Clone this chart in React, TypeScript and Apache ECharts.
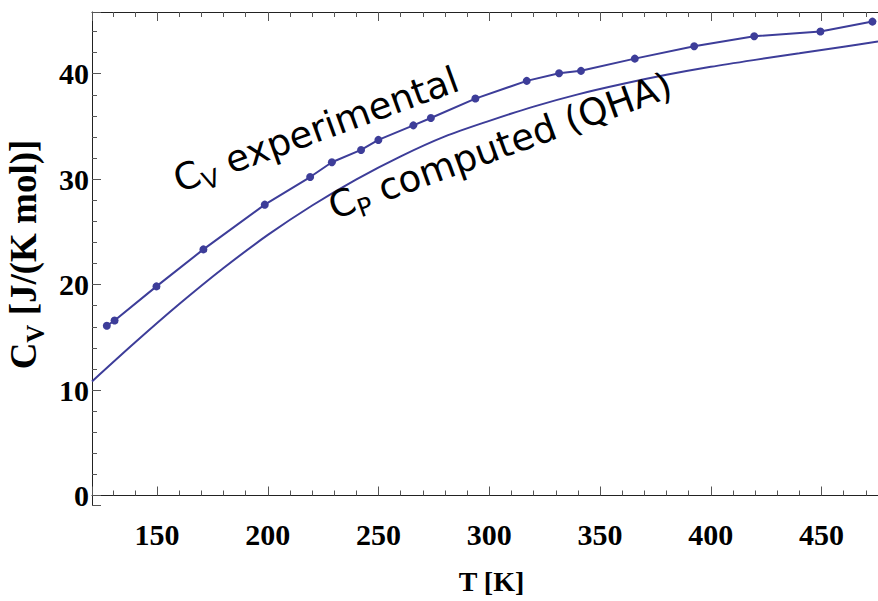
import React, { useEffect, useRef } from "react";
import * as echarts from "echarts";

// Experimental C_V points (T in K, C_V in J/(K mol))
const expT = [127.3, 130.8, 149.7, 170.9, 198.6, 219.1, 228.9, 242.1, 249.9, 265.7, 273.6, 293.7, 316.9, 331.5, 341.4, 365.7, 392.5, 419.6, 449.5, 473.0];
const expCv = [16.1, 16.6, 19.83, 23.34, 27.58, 30.2, 31.6, 32.77, 33.72, 35.1, 35.8, 37.64, 39.32, 40.04, 40.27, 41.43, 42.6, 43.55, 44.0, 44.94];

// Computed C_P (QHA) curve at regular temperatures
const qhaT = [120.6, 140, 160, 180, 200, 220, 240, 260, 280, 300, 320, 340, 360, 380, 400, 420, 440, 460, 475.5];
const qhaCp = [10.81, 14.5, 18.15, 21.57, 24.71, 27.5, 29.98, 32.16, 34.05, 35.53, 36.88, 38.04, 39.02, 39.89, 40.65, 41.31, 41.93, 42.56, 43.06];

const xRange = [120.6, 475.5];
const yRange = [-0.9, 45.85];

const LINE = "#3D3D99";
const SERIF = "'Liberation Serif', 'Times New Roman', serif";
const SANS = "'DejaVu Sans', sans-serif";

export default function App() {
  const ref = useRef<HTMLDivElement>(null);

  useEffect(() => {
    if (!ref.current) return;
    const chart = echarts.init(ref.current, undefined, { renderer: "svg" });

    const tickLabel = {
      fontFamily: SERIF,
      fontWeight: "bold" as const,
      fontSize: 30,
      color: "#000",
    };

    const xCommon = {
      type: "value" as const,
      min: xRange[0],
      max: xRange[1],
      splitNumber: 7,
      splitLine: { show: false },
      axisLine: { show: true, lineStyle: { color: "#222", width: 1 } },
      axisTick: { show: true, inside: true, length: 9, lineStyle: { color: "#555" } },
      minorTick: { show: true, splitNumber: 5, length: 5, lineStyle: { color: "#555" } },
    };

    const annRich = {
      a: { fontFamily: SANS, fontSize: 37, fill: "#000", verticalAlign: "bottom", padding: [0, 0, 5, 0] },
      b: { fontFamily: SANS, fontSize: 25, fill: "#000", verticalAlign: "bottom" },
    };

    chart.setOption({
      animation: false,
      grid: { left: 92, right: 0, top: 12, bottom: 96, containLabel: false, outerBoundsMode: "none" },
      xAxis: [
        {
          ...xCommon,
          position: "bottom",
          axisLabel: { ...tickLabel, margin: 14, showMinLabel: false, showMaxLabel: false },
          name: "T [K]",
          nameLocation: "middle",
          nameGap: 62,
          nameTextStyle: { fontFamily: SERIF, fontWeight: "bold", fontSize: 28, color: "#000", padding: [0, 0, 0, 13] },
        },
        {
          ...xCommon,
          position: "top",
          axisLabel: { show: false },
        },
      ],
      yAxis: {
        type: "value",
        min: yRange[0],
        max: yRange[1],
        splitNumber: 5,
        splitLine: { show: false },
        axisLine: { show: true, lineStyle: { color: "#222", width: 1 } },
        axisTick: { show: true, inside: true, length: 9, lineStyle: { color: "#555" } },
        minorTick: { show: true, splitNumber: 5, length: 5, lineStyle: { color: "#555" } },
        axisLabel: { ...tickLabel, margin: 3, showMinLabel: false, showMaxLabel: false },
        name: "{c|C}{s|V}{c| [J/(K mol)]}",
        nameLocation: "middle",
        nameGap: 33,
        nameTextStyle: {
          fontFamily: SERIF,
          fontWeight: "bold",
          fontSize: 37,
          color: "#000",
          padding: [0, 0, 0, 8],
          rich: {
            c: { fontFamily: SERIF, fontWeight: "bold", fontSize: 37, color: "#000", verticalAlign: "bottom", padding: [0, 0, 6, 0] },
            s: { fontFamily: SERIF, fontWeight: "bold", fontSize: 25, color: "#000", verticalAlign: "bottom" },
          },
        },
      },
      series: [
        {
          type: "line",
          name: "QHA",
          data: qhaT.map((t, i) => [t, qhaCp[i]]),
          smooth: 0.3,
          showSymbol: false,
          symbol: "none",
          clip: true,
          lineStyle: { color: LINE, width: 2 },
          z: 2,
        },
        {
          type: "line",
          name: "exp",
          data: expT.map((t, i) => [t, expCv[i]]),
          smooth: false,
          symbol: "circle",
          symbolSize: 8,
          showSymbol: true,
          clip: true,
          itemStyle: { color: LINE },
          lineStyle: { color: LINE, width: 2 },
          z: 3,
        },
      ],
      graphic: [
        {
          type: "text",
          x: 183,
          y: 203,
          rotation: (20 * Math.PI) / 180,
          style: {
            text: "{a|C}{b|V}{a| experimental}",
            align: "left",
            verticalAlign: "bottom",
            rich: annRich,
          },
          z: 10,
        },
        {
          type: "text",
          x: 338,
          y: 230,
          rotation: (20 * Math.PI) / 180,
          style: {
            text: "{a|C}{b|P}{a| computed (QHA)}",
            align: "left",
            verticalAlign: "bottom",
            rich: annRich,
          },
          z: 10,
        },
      ],
    });

    return () => chart.dispose();
  }, []);

  return (
    <div
      ref={ref}
      style={{ position: "absolute", left: 0, top: 0, width: 878, height: 601, background: "#fff" }}
    />
  );
}
